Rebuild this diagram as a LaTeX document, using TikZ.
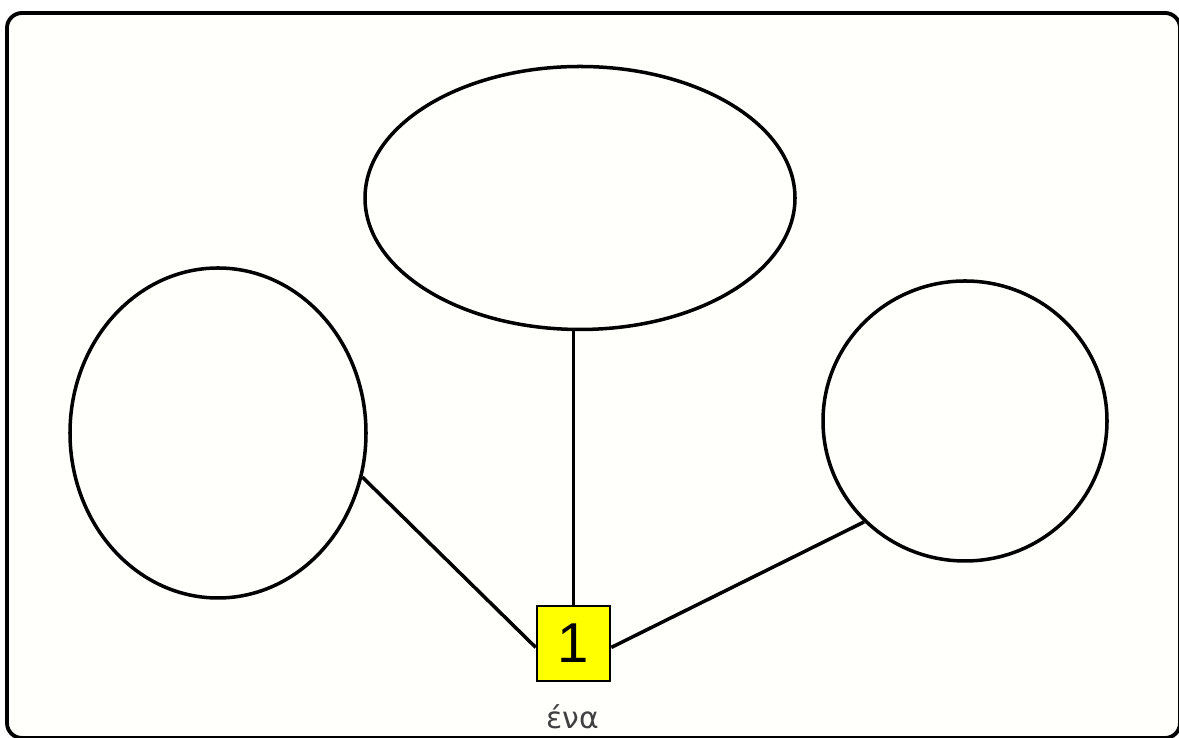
\documentclass[tikz,border=0pt]{standalone}
\usepackage{fontspec}
\setmainfont{Liberation Sans}
\newfontfamily\wordfont{DejaVu Sans}
\usetikzlibrary{shapes.geometric}
\definecolor{cream}{HTML}{FFFFFB}
\definecolor{boxyellow}{HTML}{FFFF00}
\begin{document}
\begin{tikzpicture}[thick,blob/.style={ellipse,draw,line width=2pt,inner sep=0pt},numbox/.style={rectangle,draw,line width=1.4pt,fill=boxyellow,minimum width=1.46cm,minimum height=1.5cm,inner sep=0pt,font=\fontsize{32}{34}\selectfont}]
        \useasboundingbox (0,0) rectangle (23.58,14.76);
        \draw[line width=2.2pt, rounded corners=0.3cm, fill=cream] (0.14,0.0) rectangle (23.6,14.5);

        \node[blob, minimum width=8.6cm, minimum height=5.26cm] at (11.6, 10.8) (top) {};
        \node[blob, minimum width=5.92cm, minimum height=6.6cm] at (4.36, 6.1) (left) {};
        \node[blob, minimum width=5.68cm, minimum height=5.6cm] at (19.3, 6.34) (right) {};
        \node[numbox] at (11.47, 1.89) (one) {1};
        \node[text=black!75, font=\wordfont\fontsize{17}{18}\selectfont] at (11.46, 0.42) (word) {ένα};

        \path[line width=2pt]
            (one.north) edge (one.north |- top.south)
            (one.186) edge (left.-17)
            (one.354) edge (right.225)
            ;
        \end{tikzpicture}
\end{document}
